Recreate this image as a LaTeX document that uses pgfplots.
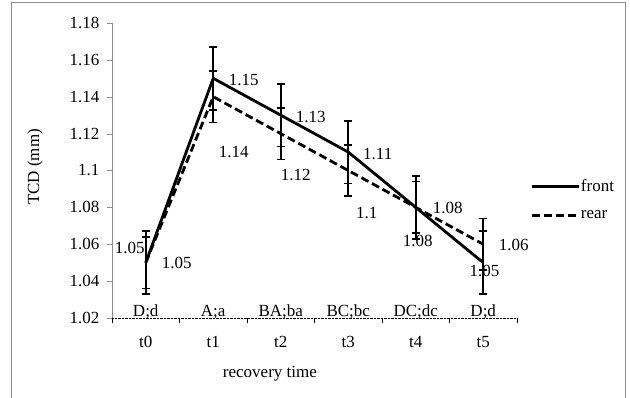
\documentclass[border=0pt]{standalone}
\usepackage{fontspec}
\setmainfont{Liberation Serif}
\usepackage{pgfplots}
\pgfplotsset{compat=1.18}
\definecolor{axgray}{RGB}{140,140,140}
\newcommand{\fs}{\fontsize{17}{19}\selectfont}
\begin{document}
\begin{tikzpicture}[x=1pt,y=1pt, font=\fs]
\path[use as bounding box] (0,0) rectangle (630,398);
\draw[axgray, line width=1pt] (11,0) -- (11,395) -- (625,395) -- (625,0);
\begin{axis}[
  at={(112pt,80pt)}, anchor=south west,
  scale only axis, width=405pt, height=295pt,
  font=\fs,
  xmin=-0.5, xmax=5.5, ymin=1.02, ymax=1.18,
  axis x line=bottom, axis y line=left,
  x axis line style={black, densely dotted, -},
  y axis line style={axgray, -},
  xtick={0,1,2,3,4,5},
  xticklabels={t0,t1,t2,t3,t4,t5},
  major x tick style={draw=none},
  minor xtick={-0.5,0.5,1.5,2.5,3.5,4.5,5.5},
  minor x tick style={black, thin},
  minor tick length=5pt,
  major tick length=5pt,
  tick align=outside,
  ytick={1.02,1.04,1.06,1.08,1.1,1.12,1.14,1.16,1.18},
  y tick style={axgray},
  tick label style={font=\fs},
  yticklabel style={/pgf/number format/fixed, /pgf/number format/precision=2, xshift=-4pt},
  xticklabel style={yshift=-10pt},
  /pgf/number format/assume math mode=true,
  ylabel={TCD (mm)},
  ylabel style={at={(axis description cs:-0.19,0.512)}, anchor=center, font=\fs},
  xlabel={recovery time},
  xlabel style={at={(axis description cs:0.39,-0.19)}, anchor=center, font=\fs},
  legend style={at={(axis description cs:1.032,0.40)}, anchor=west, draw=none, fill=none, inner sep=0pt, row sep=16pt,
    nodes={inner sep=1pt}, font=\fs},
  legend cell align=left,
  legend image code/.code={\draw[#1] (0pt,0pt) -- (47pt,0pt);},
  clip=false,
]
\addplot[black, line width=2.8pt, mark=none,
  error bars/.cd, y dir=both, y explicit,
  error bar style={line width=1.8pt, black, solid},
  error mark options={rotate=90, mark size=4pt, line width=1.8pt, black, solid}]
  coordinates {(0,1.05) +- (0,0.017) (1,1.15) +- (0,0.017) (2,1.13) +- (0,0.017)
               (3,1.11) +- (0,0.017) (4,1.08) +- (0,0.017) (5,1.05) +- (0,0.017)};
\addlegendentry{front}
\addplot[black, line width=2.8pt, mark=none, dash pattern=on 8pt off 4pt,
  error bars/.cd, y dir=both, y explicit,
  error bar style={line width=1.8pt, black, solid},
  error mark options={rotate=90, mark size=4pt, line width=1.8pt, black, solid}]
  coordinates {(0,1.05) +- (0,0.014) (1,1.14) +- (0,0.014) (2,1.12) +- (0,0.014)
               (3,1.10) +- (0,0.014) (4,1.08) +- (0,0.014) (5,1.06) +- (0,0.014)};
\addlegendentry{rear}
% value labels
\addplot[forget plot, only marks, mark=none, nodes near coords={\pgfplotspointmeta}, point meta=explicit symbolic,
  every node near coord/.append style={anchor=center, inner sep=0pt, text=black, font=\fs}]
  coordinates {(-0.237,1.058) [1.05] (1.452,1.149) [1.15] (2.444,1.129) [1.13]
               (3.437,1.109) [1.11] (4.03,1.062) [1.08] (5.02,1.0455) [1.05]
               (0.459,1.0498) [1.05] (1.304,1.110) [1.14] (2.222,1.0976) [1.12]
               (3.274,1.0769) [1.1] (4.474,1.0797) [1.08] (5.452,1.0596) [1.06]};
% significance letters
\node[anchor=base, inner sep=0pt] at (axis cs:0,1.0209) {D;d};
\node[anchor=base, inner sep=0pt] at (axis cs:1,1.0209) {A;a};
\node[anchor=base, inner sep=0pt] at (axis cs:2,1.0209) {BA;ba};
\node[anchor=base, inner sep=0pt] at (axis cs:3,1.0209) {BC;bc};
\node[anchor=base, inner sep=0pt] at (axis cs:4,1.0209) {DC;dc};
\node[anchor=base, inner sep=0pt] at (axis cs:5,1.0209) {D;d};
\end{axis}
\end{tikzpicture}
\end{document}
